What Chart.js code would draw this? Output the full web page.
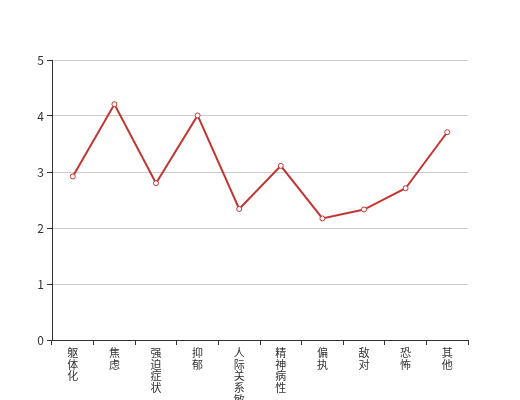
<!DOCTYPE html>
<html>
<head>
<meta charset="utf-8">
<script src="https://cdn.jsdelivr.net/npm/chart.js@4/dist/chart.umd.min.js"></script>
<style>
html,body{margin:0;padding:0;background:#fff;}
#wrap{width:520px;height:400px;}
</style>
</head>
<body>
<div id="wrap"><canvas id="c" width="520" height="400"></canvas></div>
<script>
const categories = ['躯体化','焦虑','强迫症状','抑郁','人际关系敏感','精神病性','偏执','敌对','恐怖','其他'];
const values = [2.92, 4.21, 2.80, 4.01, 2.34, 3.11, 2.17, 2.33, 2.71, 3.71];
const yTicks = [0, 1, 2, 3, 4, 5];

const labels = categories.map(s => Array.from(s));
const font = { family: '"Noto Sans CJK SC", "Noto Sans", sans-serif', size: 11, lineHeight: 1.06 };

new Chart(document.getElementById('c'), {
  type: 'line',
  data: {
    labels: labels,
    datasets: [{
      data: values,
      borderColor: '#c23531',
      borderWidth: 2,
      backgroundColor: '#fff',
      pointBackgroundColor: '#fff',
      pointBorderColor: '#c23531',
      pointBorderWidth: 1,
      pointRadius: 2.5,
      tension: 0,
      fill: false
    }]
  },
  options: {
    responsive: false,
    animation: false,
    layout: { padding: { top: 60, right: 52, left: 0, bottom: 0 } },
    plugins: { legend: { display: false }, tooltip: { enabled: false } },
    scales: {
      x: {
        offset: true,
        afterFit: s => { s.height = 60; },
        grid: { offset: true, drawOnChartArea: false, tickColor: '#333', tickLength: 5 },
        border: { color: '#333', width: 1 },
        ticks: { color: '#333', font: font, maxRotation: 0, minRotation: 0, padding: 2, autoSkip: false }
      },
      y: {
        min: yTicks[0], max: yTicks[yTicks.length - 1],
        afterFit: s => { s.width = 52; },
        afterBuildTicks: s => { s.ticks = yTicks.map(v => ({ value: v })); },
        grid: { color: '#ccc', tickColor: '#333', tickLength: 5 },
        border: { color: '#333', width: 1 },
        ticks: { color: '#333', font: { family: font.family, size: 12 }, padding: 3 }
      }
    }
  }
});
</script>
</body>
</html>
